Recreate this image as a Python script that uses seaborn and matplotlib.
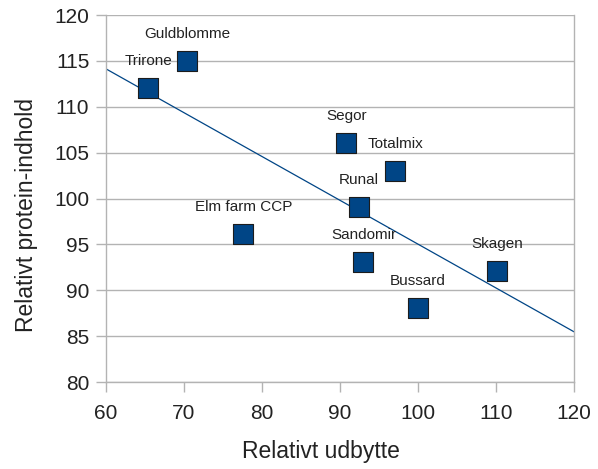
import matplotlib
matplotlib.use("Agg")
import matplotlib.pyplot as plt
import pandas as pd
import seaborn as sns

# Values
varieties = ["Trirone", "Guldblomme", "Segor", "Totalmix", "Runal",
             "Elm farm CCP", "Sandomir", "Bussard", "Skagen"]
udbytte = [65.4, 70.4, 90.8, 97.1, 92.4, 77.6, 93.0, 100.0, 110.1]
protein = [112.0, 115.0, 106.0, 103.0, 99.1, 96.1, 93.1, 88.1, 92.1]

x_ticks = [60, 70, 80, 90, 100, 110, 120]
y_ticks = [80, 85, 90, 95, 100, 105, 110, 115, 120]

df = pd.DataFrame({"sort": varieties, "udbytte": udbytte, "protein": protein})

sns.set_style("white")
plt.rcParams["font.family"] = ["Liberation Sans", "DejaVu Sans"]

fig = plt.figure(figsize=(5.98, 4.69), dpi=100)
ax = fig.add_axes([0.1773, 0.1855, 0.7826, 0.7825])

grid_col = "#b3b3b3"
txt_col = "#222222"
ax.set_xlim(60, 120)
ax.set_ylim(80, 120)
ax.set_yticks(y_ticks)
ax.set_xticks(x_ticks)
ax.yaxis.grid(True, color=grid_col, linewidth=1)
ax.set_axisbelow(True)

# trend line (linear regression) across the full x range
sns.regplot(data=df, x="udbytte", y="protein", ax=ax, ci=None, truncate=False,
            scatter=False, line_kws={"color": "#004586", "linewidth": 0.9})

sns.scatterplot(data=df, x="udbytte", y="protein", ax=ax, marker="s", s=190,
                color="#004586", edgecolor="#1c1c1c", linewidth=0.8, zorder=3)

for name, xv, yv in zip(varieties, udbytte, protein):
    ax.annotate(name, (xv, yv), xytext=(0, 19.5), textcoords="offset points",
                ha="center", va="center", fontsize=11, color=txt_col)

ax.set_xlim(60, 120)
ax.set_ylim(80, 120)

for sp in ax.spines.values():
    sp.set_color(grid_col)
    sp.set_linewidth(1)
ax.spines["top"].set_visible(False)

ax.tick_params(axis="both", direction="out", length=7, width=1, color=grid_col,
               labelsize=15, labelcolor=txt_col, bottom=True, left=True)
ax.tick_params(axis="y", pad=5)
ax.tick_params(axis="x", pad=9)

ax.set_xlabel("Relativt udbytte", fontsize=16.5, color=txt_col)
ax.set_ylabel("Relativt protein-indhold", fontsize=16.5, color=txt_col)
ax.xaxis.set_label_coords(0.459, -0.158)
ax.yaxis.set_label_coords(-0.145, 0.455)

fig.savefig("out.png", dpi=100)
